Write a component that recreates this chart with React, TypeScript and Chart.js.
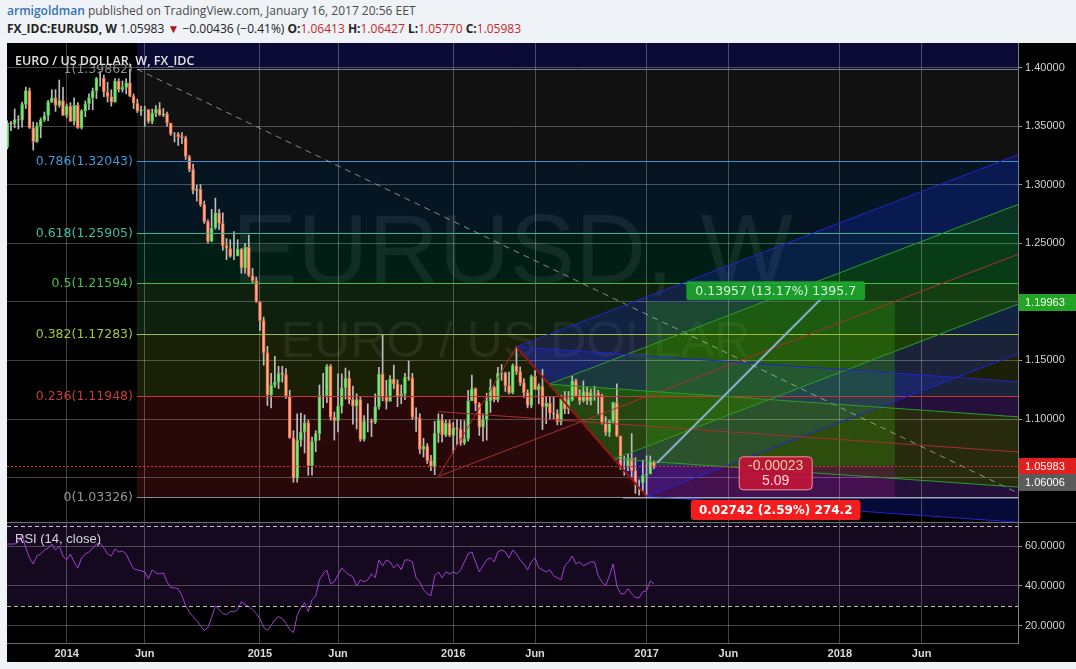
import React, { useEffect, useRef } from "react";
import { Chart, registerables } from "chart.js";

Chart.register(...registerables);

// ---- weekly candles, index 0 = week of 16 Sep 2013 ----
const weekOpen = [
  1.3320, 1.3525, 1.3520, 1.3555, 1.3550, 1.3685, 1.3803, 1.3485, 1.3367, 1.3497,
  1.3553, 1.3590, 1.3706, 1.3740, 1.3676, 1.3718, 1.3590, 1.3670, 1.3540, 1.3676,
  1.3486, 1.3632, 1.3690, 1.3740, 1.3800, 1.3910, 1.3910, 1.3790, 1.3750, 1.3705,
  1.3885, 1.3810, 1.3830, 1.3870, 1.3755, 1.3695, 1.3630, 1.3635, 1.3640, 1.3540,
  1.3610, 1.3645, 1.3595, 1.3605, 1.3525, 1.3430, 1.3430, 1.3410, 1.3400, 1.3240,
  1.3130, 1.2950, 1.2960, 1.2830, 1.2685, 1.2515, 1.2630, 1.2760, 1.2670, 1.2480,
  1.2455, 1.2390, 1.2390, 1.2450, 1.2290, 1.2465, 1.2225, 1.2180, 1.2000, 1.1840,
  1.1565, 1.1205, 1.1290, 1.1315, 1.1390, 1.1380, 1.1195, 1.0840, 1.0495, 1.0820,
  1.0890, 1.0970, 1.0600, 1.0810, 1.0875, 1.1200, 1.1200, 1.1450, 1.1015, 1.0985,
  1.1110, 1.1265, 1.1350, 1.1165, 1.1110, 1.1165, 1.0825, 1.0985, 1.0985, 1.0970,
  1.1105, 1.1385, 1.1185, 1.1150, 1.1340, 1.1300, 1.1195, 1.1215, 1.1355, 1.1350,
  1.1015, 1.1005, 1.0740, 1.0770, 1.0645, 1.0595, 1.0880, 1.0990, 1.0865, 1.0965,
  1.0860, 1.0925, 1.0915, 1.0795, 1.0830, 1.1155, 1.1260, 1.1130, 1.0930, 1.0995,
  1.1155, 1.1270, 1.1165, 1.1390, 1.1395, 1.1285, 1.1225, 1.1455, 1.1405, 1.1310,
  1.1225, 1.1115, 1.1365, 1.1250, 1.1280, 1.1105, 1.1135, 1.1050, 1.1045, 1.0975,
  1.1175, 1.1085, 1.1165, 1.1325, 1.1200, 1.1155, 1.1235, 1.1155, 1.1225, 1.1225,
  1.1200, 1.0970, 1.0885, 1.0980, 1.1140, 1.0855, 1.0590, 1.0590, 1.0665, 1.0560,
  1.0455, 1.0455, 1.0520, 1.0530, 1.0641,
];
const weekHigh = [
  1.3545, 1.3540, 1.3646, 1.3590, 1.3705, 1.3832, 1.3825, 1.3535, 1.3530, 1.3570,
  1.3620, 1.3720, 1.3810, 1.3811, 1.3893, 1.3830, 1.3690, 1.3700, 1.3740, 1.3700,
  1.3640, 1.3715, 1.3775, 1.3825, 1.3915, 1.3966, 1.3935, 1.3875, 1.3810, 1.3905,
  1.3905, 1.3885, 1.3905, 1.3986, 1.3775, 1.3730, 1.3670, 1.3670, 1.3640, 1.3645,
  1.3675, 1.3700, 1.3650, 1.3620, 1.3525, 1.3445, 1.3445, 1.3445, 1.3415, 1.3250,
  1.3175, 1.2995, 1.3000, 1.2860, 1.2700, 1.2790, 1.2885, 1.2790, 1.2760, 1.2540,
  1.2530, 1.2600, 1.2530, 1.2455, 1.2500, 1.2570, 1.2285, 1.2210, 1.2000, 1.1870,
  1.1620, 1.1390, 1.1535, 1.1450, 1.1450, 1.1430, 1.1245, 1.0900, 1.1045, 1.1050,
  1.1035, 1.0990, 1.0845, 1.0900, 1.1290, 1.1390, 1.1465, 1.1465, 1.1060, 1.1385,
  1.1385, 1.1435, 1.1410, 1.1280, 1.1215, 1.1190, 1.1030, 1.1130, 1.1000, 1.1215,
  1.1440, 1.1715, 1.1330, 1.1370, 1.1460, 1.1335, 1.1290, 1.1390, 1.1495, 1.1390,
  1.1095, 1.1045, 1.0835, 1.0790, 1.0690, 1.0980, 1.1045, 1.1040, 1.0990, 1.0990,
  1.0970, 1.0995, 1.0990, 1.0985, 1.1245, 1.1375, 1.1265, 1.1140, 1.1045, 1.1220,
  1.1340, 1.1280, 1.1440, 1.1465, 1.1400, 1.1400, 1.1470, 1.1616, 1.1445, 1.1345,
  1.1250, 1.1375, 1.1415, 1.1300, 1.1425, 1.1185, 1.1185, 1.1185, 1.1080, 1.1200,
  1.1235, 1.1235, 1.1365, 1.1340, 1.1250, 1.1325, 1.1275, 1.1255, 1.1280, 1.1245,
  1.1210, 1.1020, 1.0990, 1.1145, 1.1300, 1.0855, 1.0680, 1.0700, 1.0875, 1.0670,
  1.0480, 1.0650, 1.0685, 1.0685, 1.0643,
];
const weekLow = [
  1.3305, 1.3460, 1.3485, 1.3475, 1.3490, 1.3650, 1.3480, 1.3295, 1.3360, 1.3400,
  1.3540, 1.3547, 1.3700, 1.3625, 1.3660, 1.3590, 1.3570, 1.3540, 1.3510, 1.3480,
  1.3475, 1.3580, 1.3640, 1.3640, 1.3735, 1.3840, 1.3750, 1.3705, 1.3670, 1.3705,
  1.3790, 1.3790, 1.3775, 1.3750, 1.3650, 1.3615, 1.3590, 1.3500, 1.3525, 1.3520,
  1.3580, 1.3590, 1.3580, 1.3500, 1.3420, 1.3365, 1.3335, 1.3350, 1.3215, 1.3110,
  1.2920, 1.2860, 1.2815, 1.2670, 1.2500, 1.2515, 1.2620, 1.2615, 1.2440, 1.2360,
  1.2380, 1.2360, 1.2400, 1.2245, 1.2245, 1.2215, 1.2165, 1.1995, 1.1755, 1.1460,
  1.1115, 1.1095, 1.1270, 1.1260, 1.1315, 1.1175, 1.0835, 1.0460, 1.0460, 1.0765,
  1.0710, 1.0520, 1.0520, 1.0720, 1.0820, 1.1095, 1.1140, 1.0990, 1.0820, 1.0890,
  1.1050, 1.1170, 1.1130, 1.0955, 1.0915, 1.0810, 1.0810, 1.0890, 1.0850, 1.0960,
  1.1085, 1.1155, 1.1085, 1.1155, 1.1260, 1.1105, 1.1130, 1.1165, 1.1330, 1.0995,
  1.0895, 1.0705, 1.0675, 1.0620, 1.0560, 1.0525, 1.0800, 1.0805, 1.0850, 1.0850,
  1.0710, 1.0780, 1.0775, 1.0780, 1.0810, 1.1160, 1.1070, 1.0860, 1.0810, 1.0820,
  1.1055, 1.1145, 1.1145, 1.1330, 1.1235, 1.1215, 1.1215, 1.1380, 1.1285, 1.1185,
  1.1095, 1.1095, 1.1250, 1.1130, 1.0910, 1.0960, 1.1000, 1.1000, 1.0950, 1.0950,
  1.1045, 1.1045, 1.1155, 1.1195, 1.1125, 1.1145, 1.1125, 1.1120, 1.1160, 1.1045,
  1.0955, 1.0860, 1.0850, 1.0965, 1.0850, 1.0570, 1.0520, 1.0560, 1.0505, 1.0365,
  1.0350, 1.0390, 1.0340, 1.0550, 1.0577,
];
const weekClose = [
  1.3525, 1.3520, 1.3555, 1.3550, 1.3685, 1.3803, 1.3485, 1.3367, 1.3497, 1.3553,
  1.3590, 1.3706, 1.3740, 1.3676, 1.3718, 1.3590, 1.3670, 1.3540, 1.3676, 1.3486,
  1.3632, 1.3690, 1.3740, 1.3800, 1.3910, 1.3910, 1.3790, 1.3750, 1.3705, 1.3885,
  1.3810, 1.3830, 1.3870, 1.3755, 1.3695, 1.3630, 1.3635, 1.3640, 1.3540, 1.3610,
  1.3645, 1.3595, 1.3605, 1.3525, 1.3430, 1.3430, 1.3410, 1.3400, 1.3240, 1.3130,
  1.2950, 1.2960, 1.2830, 1.2685, 1.2515, 1.2630, 1.2760, 1.2670, 1.2480, 1.2455,
  1.2390, 1.2390, 1.2450, 1.2290, 1.2465, 1.2225, 1.2180, 1.2000, 1.1840, 1.1565,
  1.1205, 1.1290, 1.1315, 1.1390, 1.1380, 1.1195, 1.0840, 1.0495, 1.0820, 1.0890,
  1.0970, 1.0600, 1.0810, 1.0875, 1.1200, 1.1200, 1.1450, 1.1015, 1.0985, 1.1110,
  1.1265, 1.1350, 1.1165, 1.1110, 1.1165, 1.0825, 1.0985, 1.0985, 1.0970, 1.1105,
  1.1385, 1.1185, 1.1150, 1.1340, 1.1300, 1.1195, 1.1215, 1.1355, 1.1350, 1.1015,
  1.1005, 1.0740, 1.0770, 1.0645, 1.0595, 1.0880, 1.0990, 1.0865, 1.0965, 1.0860,
  1.0925, 1.0915, 1.0795, 1.0830, 1.1155, 1.1260, 1.1130, 1.0930, 1.0995, 1.1155,
  1.1270, 1.1165, 1.1390, 1.1395, 1.1285, 1.1225, 1.1455, 1.1405, 1.1310, 1.1225,
  1.1115, 1.1365, 1.1250, 1.1280, 1.1105, 1.1135, 1.1050, 1.1045, 1.0975, 1.1175,
  1.1085, 1.1165, 1.1325, 1.1200, 1.1155, 1.1235, 1.1155, 1.1225, 1.1225, 1.1200,
  1.0970, 1.0885, 1.0980, 1.1140, 1.0855, 1.0590, 1.0590, 1.0665, 1.0560, 1.0455,
  1.0455, 1.0520, 1.0530, 1.0641, 1.0598,
];
const rsiValues = [
  61, 61, 61, 62, 66, 59, 54, 51, 55, 56,
  58, 59, 61, 58, 60, 55, 53, 56, 52, 49,
  54, 56, 57, 59, 61, 61.5, 59, 56, 55, 58.5,
  57, 57.5, 56, 52, 48.5, 48, 47.5, 47, 43.5, 48,
  46.5, 46, 46.5, 42, 39, 39, 38.5, 35, 30, 26.7,
  24.5, 22.5, 20, 17.5, 19, 24, 30, 28, 26, 25.5,
  27, 27, 28, 32, 30.5, 29.5, 28, 26, 23.5, 19,
  17.5, 20, 23, 24.5, 23.5, 21, 18, 16.5, 25, 29,
  31.5, 27, 33, 35, 43, 46, 48, 41, 42, 45.5,
  49, 47, 45.5, 44.5, 40, 43, 42, 43, 46, 44,
  53, 50, 53, 52, 49, 51, 48, 53, 53, 52,
  44, 42, 38, 36, 35, 45, 47, 44, 47, 46,
  47, 46, 48, 52, 56, 57, 52, 47, 50, 53,
  54, 52, 57, 58, 57, 54, 58, 56, 53, 51,
  48, 52, 54, 49, 48, 47, 48, 45, 44, 43,
  50, 52, 55, 51, 52, 50, 51, 52, 52, 45,
  42, 40, 45, 51, 40, 36, 36, 38.5, 36, 34,
  34, 37, 37.5, 42.5, 41,
];

// ---- axes ----
const timeTickIndex = [16, 37, 68, 89, 120, 142, 172, 194, 224, 246];
const timeTickLabels = ["2014", "Jun", "2015", "Jun", "2016", "Jun", "2017", "Jun", "2018", "Jun"];
const priceTicks = [1.05, 1.1, 1.15, 1.2, 1.25, 1.3, 1.35, 1.4];
const rsiTicks = [20, 40, 60];
const rsiUpper = 70;
const rsiLower = 30;

// ---- drawings ----
const fibRatios = ["1", "0.786", "0.618", "0.5", "0.382", "0.236", "0"];
const fibPrices = [1.39862, 1.32043, 1.25905, 1.21594, 1.17283, 1.11948, 1.03326];
const fibLineColors = ["#7c7c7c", "#3d8fd0", "#35b596", "#45b845", "#98c03a", "#c93434", "#8a8a8a"];
const fibLabelColors = ["#8c8c8c", "#4298d8", "#3cbf9e", "#4cc04c", "#a0c83a", "#c63c3c", "#959595"];
const fibFillColors = [
  "rgba(128,128,128,0.13)",
  "rgba(33,150,243,0.14)",
  "rgba(0,175,115,0.17)",
  "rgba(76,175,80,0.18)",
  "rgba(160,200,40,0.16)",
  "rgba(210,40,40,0.19)",
];
const fibTopFill = "rgba(28,28,140,0.38)";
const fibAnchorIndex = 34.9;
const trendStart = [34.9, 1.39862];
const trendEnd = [271.93, 1.0368];
const pivotIndex = [116, 137, 172];
const pivotPrice = [1.051, 1.1616, 1.034];
const positionStartIndex = 172;
const positionEndIndex = 238.8;
const entryPrice = 1.06006;
const targetPrice = 1.19963;
const stopPrice = 1.03264;
const lastPrice = 1.05983;
const projectionFrom = [174.8, 1.0625];
const projectionTo = [223.2, 1.2161];
const stopRayIndex = 165.7;

const X_MIN = -0.06;
const X_MAX = 271.93;
const PRICE_MIN = 1.0121;
const PRICE_MAX = 1.4209;
const RSI_MIN = 11.2;
const RSI_MAX = 72.1;

const GRID = "rgba(255,255,255,0.26)";
const AXIS_FONT = '"Liberation Sans", Arial, sans-serif';

type P = { i: number; p: number };
function makeFork(a: P, b: P, c: P, xEnd: number) {
  const m = { i: (b.i + c.i) / 2, p: (b.p + c.p) / 2 };
  const slope = (m.p - a.p) / (m.i - a.i);
  const h1 = { i: (b.i + m.i) / 2, p: (b.p + m.p) / 2 };
  const h2 = { i: (c.i + m.i) / 2, p: (c.p + m.p) / 2 };
  const ext = (pt: P) => ({ i: xEnd, p: pt.p + slope * (xEnd - pt.i) });
  return { a, b, c, m, h1, h2, ext };
}
const pA = { i: pivotIndex[0], p: pivotPrice[0] };
const pB = { i: pivotIndex[1], p: pivotPrice[1] };
const pC = { i: pivotIndex[2], p: pivotPrice[2] };
const pS = { i: pA.i, p: (pA.p + pB.p) / 2 };
const forks = [makeFork(pA, pB, pC, X_MAX), makeFork(pS, pB, pC, X_MAX)];

const forkBlue = "rgba(30,45,255,0.21)";
const forkGreen = "rgba(40,200,40,0.18)";

function roundBox(ctx: CanvasRenderingContext2D, x: number, y: number, w: number, h: number, r: number) {
  ctx.beginPath();
  if ((ctx as any).roundRect) (ctx as any).roundRect(x, y, w, h, r);
  else ctx.rect(x, y, w, h);
}

const priceOverlay = {
  id: "priceOverlay",
  beforeDraw(chart: any) {
    const { ctx, chartArea: a } = chart;
    const X = (v: number) => chart.scales.x.getPixelForValue(v);
    const Y = (v: number) => chart.scales.y.getPixelForValue(v);
    ctx.save();
    ctx.fillStyle = "#000";
    ctx.fillRect(0, 0, chart.width, chart.height);
    ctx.beginPath();
    ctx.rect(a.left, a.top, a.right - a.left, a.bottom - a.top);
    ctx.clip();
    const fx = X(fibAnchorIndex);
    ctx.fillStyle = fibTopFill;
    ctx.fillRect(fx, a.top, a.right - fx, Y(fibPrices[0]) - a.top);
    for (let k = 0; k < fibFillColors.length; k++) {
      const y1 = Y(fibPrices[k]);
      const y2 = Y(fibPrices[k + 1]);
      ctx.fillStyle = fibFillColors[k];
      ctx.fillRect(fx, y1, a.right - fx, y2 - y1);
    }
    // watermark
    const cx = (a.left + a.right) / 2;
    ctx.fillStyle = "rgba(255,255,255,0.07)";
    ctx.textAlign = "center";
    ctx.textBaseline = "alphabetic";
    ctx.font = '98px "Liberation Sans", Arial, sans-serif';
    ctx.fillText("EURUSD, W", cx, a.top + 240);
    ctx.font = '50px "Liberation Sans", Arial, sans-serif';
    ctx.fillText("EURO / US DOLLAR", cx + 3, a.top + 314);
    // pitchfork zones
    const poly = (pts: P[], color: string) => {
      ctx.beginPath();
      pts.forEach((pt, j) => (j ? ctx.lineTo(X(pt.i), Y(pt.p)) : ctx.moveTo(X(pt.i), Y(pt.p))));
      ctx.closePath();
      ctx.fillStyle = color;
      ctx.fill();
    };
    for (const f of forks) {
      const zones: [P, P, string][] = [
        [f.b, f.h1, forkBlue],
        [f.h1, f.m, forkGreen],
        [f.m, f.h2, forkGreen],
        [f.h2, f.c, forkBlue],
      ];
      for (const [u, v, col] of zones) poly([u, f.ext(u), f.ext(v), v], col);
    }
    // long position zones
    const x1 = X(positionStartIndex);
    const x2 = X(positionEndIndex);
    ctx.fillStyle = "rgba(60,175,10,0.27)";
    ctx.fillRect(x1, Y(targetPrice), x2 - x1, Y(entryPrice) - Y(targetPrice));
    ctx.fillStyle = "rgba(160,20,140,0.26)";
    ctx.fillRect(x1, Y(entryPrice), x2 - x1, Y(stopPrice) - Y(entryPrice));
    ctx.restore();
  },
  afterDatasetsDraw(chart: any) {
    const { ctx, chartArea: a } = chart;
    const X = (v: number) => chart.scales.x.getPixelForValue(v);
    const Y = (v: number) => chart.scales.y.getPixelForValue(v);
    const line = (i1: number, p1: number, i2: number, p2: number, color: string, w = 1, dash: number[] = []) => {
      ctx.beginPath();
      ctx.setLineDash(dash);
      ctx.strokeStyle = color;
      ctx.lineWidth = w;
      ctx.moveTo(X(i1), Y(p1));
      ctx.lineTo(X(i2), Y(p2));
      ctx.stroke();
    };
    ctx.save();
    ctx.beginPath();
    ctx.rect(a.left, a.top, a.right - a.left, a.bottom - a.top);
    ctx.clip();
    // fib lines and labels
    const fx = X(fibAnchorIndex);
    ctx.font = '12.5px "DejaVu Sans", Verdana, sans-serif';
    ctx.textAlign = "right";
    ctx.textBaseline = "middle";
    fibPrices.forEach((fp, k) => {
      const yy = Math.round(Y(fp)) + 0.5;
      ctx.beginPath();
      ctx.setLineDash([]);
      ctx.strokeStyle = fibLineColors[k];
      ctx.lineWidth = 1;
      ctx.moveTo(fx, yy);
      ctx.lineTo(a.right, yy);
      ctx.stroke();
      ctx.fillStyle = fibLabelColors[k];
      ctx.fillText(`${fibRatios[k]}(${fp.toFixed(5)})`, fx - 4, yy + 0.5);
    });
    // dashed trend line
    line(trendStart[0], trendStart[1], trendEnd[0], trendEnd[1], "rgba(200,200,200,0.65)", 1, [6, 5]);
    // pitchfork lines
    for (let n = 0; n < forks.length; n++) {
      const f = forks[n];
      line(f.b.i, f.b.p, X_MAX, f.ext(f.b).p, "#2424d0");
      line(f.c.i, f.c.p, X_MAX, f.ext(f.c).p, "#2424d0");
      line(f.h1.i, f.h1.p, X_MAX, f.ext(f.h1).p, "#2c9c2c");
      line(f.h2.i, f.h2.p, X_MAX, f.ext(f.h2).p, "#2c9c2c");
      line(f.a.i, f.a.p, X_MAX, f.ext(f.m).p, "#a83030");
    }
    line(pA.i, pA.p, pB.i, pB.p, "#b02828");
    line(pB.i, pB.p, pC.i, pC.p, "#9a1414", 2);
    // stop ray
    line(stopRayIndex, stopPrice, X_MAX, stopPrice, "rgba(185,200,230,0.9)");
    // projection line
    line(projectionFrom[0], projectionFrom[1], projectionTo[0], projectionTo[1], "rgba(140,180,215,0.95)", 2);
    // last price dotted line
    const ly = Math.round(Y(lastPrice)) + 0.5;
    ctx.beginPath();
    ctx.setLineDash([2, 2]);
    ctx.strokeStyle = "#e03030";
    ctx.lineWidth = 1;
    ctx.moveTo(a.left, ly);
    ctx.lineTo(a.right, ly);
    ctx.stroke();
    ctx.setLineDash([]);
    // position labels
    const gain = targetPrice - entryPrice;
    const loss = entryPrice - stopPrice;
    const gainText = `${gain.toFixed(5)} (${((gain / entryPrice) * 100).toFixed(2)}%) ${(gain * 10000).toFixed(1)}`;
    const lossText = `${loss.toFixed(5)} (${((loss / entryPrice) * 100).toFixed(2)}%) ${(loss * 10000).toFixed(1)}`;
    const pnlText = (lastPrice - entryPrice).toFixed(5);
    const ratioText = (gain / loss).toFixed(2);
    const mx = (X(positionStartIndex) + X(positionEndIndex)) / 2 + 5;
    ctx.textAlign = "center";
    ctx.textBaseline = "middle";
    ctx.font = '12.5px "DejaVu Sans", Verdana, sans-serif';
    let w = ctx.measureText(gainText).width + 18;
    ctx.fillStyle = "rgba(28,165,45,0.92)";
    roundBox(ctx, mx - w / 2, Y(targetPrice) - 21, w, 19, 3);
    ctx.fill();
    ctx.fillStyle = "#d8f2d8";
    ctx.fillText(gainText, mx, Y(targetPrice) - 11);
    ctx.font = 'bold 12px "DejaVu Sans", Verdana, sans-serif';
    w = ctx.measureText(lossText).width + 16;
    ctx.fillStyle = "#f41c1c";
    roundBox(ctx, mx - w / 2, Y(stopPrice) + 2, w, 20, 3);
    ctx.fill();
    ctx.fillStyle = "#ffffff";
    ctx.fillText(lossText, mx, Y(stopPrice) + 12.5);
    const ey = Y(entryPrice);
    ctx.fillStyle = "rgba(195,20,55,0.9)";
    roundBox(ctx, mx - 36.5, ey - 9, 73, 33, 4);
    ctx.fill();
    ctx.strokeStyle = "#e79a9a";
    ctx.lineWidth = 1;
    ctx.stroke();
    ctx.font = '14px "Liberation Sans", Arial, sans-serif';
    ctx.fillStyle = "#f3c9a8";
    ctx.fillText(pnlText, mx, ey + 0.5);
    ctx.fillStyle = "#ffdada";
    ctx.fillText(ratioText, mx, ey + 15.5);
    ctx.restore();
    // legend
    ctx.save();
    ctx.font = '600 12.5px "Open Sans", "DejaVu Sans", sans-serif';
    ctx.fillStyle = "#e2e2e2";
    ctx.textAlign = "left";
    ctx.textBaseline = "middle";
    ctx.fillText("EURO / US DOLLAR, W, FX_IDC", a.left + 8, a.top + 18);
    ctx.restore();
  },
  afterDraw(chart: any) {
    const { ctx, chartArea: a } = chart;
    const Y = (v: number) => chart.scales.y.getPixelForValue(v);
    const tag = (price: number, bg: string, dy: number) => {
      const yy = Math.round(Y(price)) + dy;
      ctx.fillStyle = bg;
      ctx.fillRect(a.right + 1, yy - 8, chart.width - a.right - 1, 17);
      ctx.fillStyle = "#ffffff";
      ctx.font = `11px ${AXIS_FONT}`;
      ctx.textAlign = "left";
      ctx.textBaseline = "middle";
      ctx.fillText(price.toFixed(5), a.right + 7, yy + 0.5);
    };
    ctx.save();
    tag(targetPrice, "#22a524", 0);
    tag(lastPrice, "#e11f1f", 0);
    tag(entryPrice, "#5b5b5b", 16);
    ctx.restore();
  },
};

const rsiOverlay = {
  id: "rsiOverlay",
  beforeDraw(chart: any) {
    const { ctx, chartArea: a } = chart;
    const Y = (v: number) => chart.scales.y.getPixelForValue(v);
    ctx.save();
    ctx.fillStyle = "#000";
    ctx.fillRect(0, 0, chart.width, chart.height);
    ctx.fillStyle = "#14091f";
    ctx.fillRect(a.left, a.top, a.right - a.left, Y(rsiLower) - a.top);
    ctx.restore();
  },
  afterDatasetsDraw(chart: any) {
    const { ctx, chartArea: a } = chart;
    const Y = (v: number) => chart.scales.y.getPixelForValue(v);
    ctx.save();
    ctx.strokeStyle = "rgba(225,225,225,0.85)";
    ctx.lineWidth = 1;
    ctx.setLineDash([4, 3]);
    for (const lv of [rsiUpper, rsiLower]) {
      const yy = Math.round(Y(lv)) + 0.5;
      ctx.beginPath();
      ctx.moveTo(a.left, yy);
      ctx.lineTo(a.right, yy);
      ctx.stroke();
    }
    ctx.setLineDash([]);
    ctx.strokeStyle = "#6e6e6e";
    ctx.beginPath();
    ctx.moveTo(0, 0.5);
    ctx.lineTo(chart.width, 0.5);
    ctx.stroke();
    ctx.font = '13px "Liberation Sans Narrow", "Liberation Sans", Arial, sans-serif';
    ctx.fillStyle = "#d6d6d6";
    ctx.textAlign = "left";
    ctx.textBaseline = "middle";
    ctx.fillText("RSI (14, close)", a.left + 8, a.top + 17);
    ctx.restore();
  },
};

const barIndex = weekClose.map((_, i) => i);

function priceConfig(): any {
  const up = (i: number) => weekClose[i] >= weekOpen[i];
  return {
    type: "bar",
    data: {
      datasets: [
        {
          data: barIndex.map((i) => ({ x: i, y: [weekLow[i], weekHigh[i]] })),
          backgroundColor: "#bdbdbd",
          borderWidth: 0,
          barThickness: 1,
          grouped: false,
          order: 2,
        },
        {
          data: barIndex.map((i) => ({ x: i, y: [weekOpen[i], weekClose[i]] })),
          backgroundColor: (c: any) => (up(c.dataIndex) ? "#86e283" : "#fbb193"),
          borderColor: (c: any) => (up(c.dataIndex) ? "#45c246" : "#f2643d"),
          borderWidth: 1,
          borderSkipped: false,
          barThickness: 3,
          grouped: false,
          order: 1,
        },
      ],
    },
    options: {
      responsive: false,
      maintainAspectRatio: false,
      animation: false,
      devicePixelRatio: 1,
      events: [],
      layout: { padding: 0 },
      plugins: { legend: { display: false }, tooltip: { enabled: false } },
      scales: {
        x: {
          type: "linear",
          min: X_MIN,
          max: X_MAX,
          offset: false,
          grid: { color: GRID, drawTicks: false, offset: false },
          border: { display: false },
          ticks: { display: false },
          afterBuildTicks: (s: any) => {
            s.ticks = timeTickIndex.map((v) => ({ value: v }));
          },
          afterFit: (s: any) => {
            s.height = 0;
            s.paddingLeft = 0;
            s.paddingRight = 0;
          },
        },
        y: {
          position: "right",
          min: PRICE_MIN,
          max: PRICE_MAX,
          beginAtZero: false,
          grid: { color: GRID, tickLength: 4, tickColor: "#9a9a9a" },
          border: { display: true, color: "#7c7c7c" },
          ticks: {
            color: "#d2d2d2",
            font: { family: AXIS_FONT, size: 11 },
            padding: 3,
            callback: (v: any) => Number(v).toFixed(5),
          },
          afterBuildTicks: (s: any) => {
            s.ticks = priceTicks.map((v) => ({ value: v }));
          },
          afterFit: (s: any) => {
            s.width = 58;
            s.paddingTop = 0;
            s.paddingBottom = 0;
          },
        },
      },
    },
    plugins: [priceOverlay],
  };
}

function rsiConfig(): any {
  return {
    type: "line",
    data: {
      datasets: [
        {
          data: barIndex.map((i) => ({ x: i, y: rsiValues[i] })),
          borderColor: "#a23fd2",
          borderWidth: 1,
          pointRadius: 0,
          tension: 0,
          fill: false,
        },
      ],
    },
    options: {
      responsive: false,
      maintainAspectRatio: false,
      animation: false,
      devicePixelRatio: 1,
      events: [],
      layout: { padding: 0 },
      plugins: { legend: { display: false }, tooltip: { enabled: false } },
      scales: {
        x: {
          type: "linear",
          min: X_MIN,
          max: X_MAX,
          grid: { color: GRID, drawTicks: false },
          border: { display: true, color: "#6a6a6a" },
          ticks: {
            color: "#dadada",
            font: { family: AXIS_FONT, size: 11, weight: "bold" },
            padding: 4,
            maxRotation: 0,
            autoSkip: false,
            callback: (_v: any, idx: number) => timeTickLabels[idx],
          },
          afterBuildTicks: (s: any) => {
            s.ticks = timeTickIndex.map((v) => ({ value: v }));
          },
          afterFit: (s: any) => {
            s.height = 19;
            s.paddingLeft = 0;
            s.paddingRight = 0;
          },
        },
        y: {
          position: "right",
          min: RSI_MIN,
          max: RSI_MAX,
          grid: { color: GRID, tickLength: 4, tickColor: "#9a9a9a" },
          border: { display: true, color: "#7c7c7c" },
          ticks: {
            color: "#d2d2d2",
            font: { family: AXIS_FONT, size: 11 },
            padding: 3,
            callback: (v: any) => Number(v).toFixed(4),
          },
          afterBuildTicks: (s: any) => {
            s.ticks = rsiTicks.map((v) => ({ value: v }));
          },
          afterFit: (s: any) => {
            s.width = 58;
            s.paddingTop = 0;
            s.paddingBottom = 0;
          },
        },
      },
    },
    plugins: [rsiOverlay],
  };
}

export default function App() {
  const priceRef = useRef<HTMLCanvasElement>(null);
  const rsiRef = useRef<HTMLCanvasElement>(null);
  useEffect(() => {
    document.body.style.margin = "0";
    const c1 = new Chart(priceRef.current as HTMLCanvasElement, priceConfig());
    const c2 = new Chart(rsiRef.current as HTMLCanvasElement, rsiConfig());
    return () => {
      c1.destroy();
      c2.destroy();
    };
  }, []);
  const red = { color: "#c62828" };
  return (
    <div
      style={{
        position: "absolute",
        left: 0,
        top: 0,
        width: 1076,
        height: 669,
        background: "#eff2f6",
        overflow: "hidden",
        fontFamily: '"Open Sans", "Noto Sans", sans-serif',
      }}
    >
      <div style={{ position: "absolute", left: 7, top: 2, fontSize: 12, lineHeight: "18px", color: "#4a4a4a", whiteSpace: "nowrap" }}>
        <span style={{ color: "#2f72b8", fontWeight: 600 }}>armigoldman</span> published on TradingView.com, January 16, 2017 20:56 EET
      </div>
      <div style={{ position: "absolute", left: 7, top: 20, fontSize: 12, lineHeight: "18px", color: "#222", whiteSpace: "nowrap" }}>
        <b>FX_IDC:EURUSD, W</b> 1.05983 <span style={{ color: "#b01818" }}>▼</span> −0.00436 (−0.41%) <b>O:</b>
        <span style={red}>1.06413</span> <b>H:</b>
        <span style={red}>1.06427</span> <b>L:</b>
        <span style={red}>1.05770</span> <b>C:</b>
        <span style={red}>1.05983</span>
      </div>
      <div style={{ position: "absolute", left: 7, top: 43, width: 1069, height: 619, background: "#000" }} />
      <canvas ref={priceRef} width={1069} height={479} style={{ position: "absolute", left: 7, top: 43 }} />
      <canvas ref={rsiRef} width={1069} height={140} style={{ position: "absolute", left: 7, top: 522 }} />
    </div>
  );
}
